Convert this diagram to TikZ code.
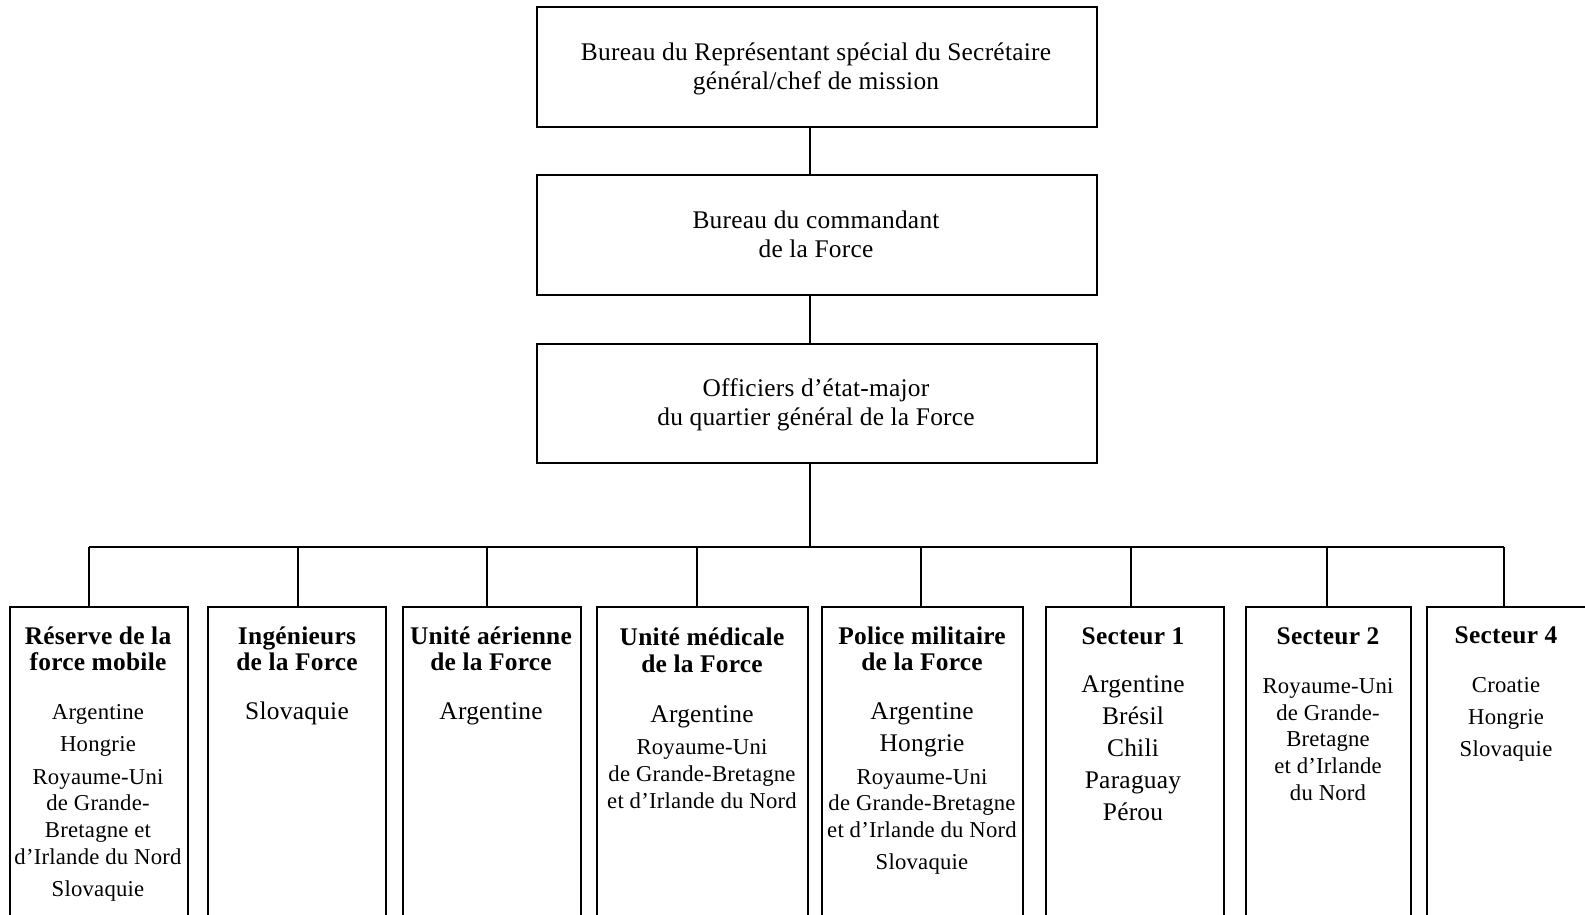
\documentclass[tikz,border=0pt]{standalone}
\usepackage{fontspec}
\setmainfont{Liberation Serif}[LetterSpace=1.0]
\begin{document}
\begin{tikzpicture}[x=1pt,y=-1pt,
  line width=1.7pt,
  boxa/.style={draw, rectangle, inner sep=0, minimum width=560pt, minimum height=120pt, anchor=north},
  boxb/.style={draw, rectangle, inner sep=0, minimum height=340pt, anchor=north},
  lg/.style={font=\fontsize{25.4}{29}\selectfont, anchor=base, inner sep=0},
  sm/.style={font=\fontsize{22.7}{26}\selectfont, anchor=base, inner sep=0},
  hd/.style={font=\fontsize{25.4}{26}\selectfont\bfseries, anchor=base, inner sep=0}]
\useasboundingbox (0,0) rectangle (1585,915);
\clip (0,0) rectangle (1585,915);
% top boxes
\node[boxa] (n1) at (817,6) {};
\node[boxa] (n2) at (817,174) {};
\node[boxa, minimum height=119pt] (n3) at (817,343) {};
\node[lg] (t1a) at (816,61) {Bureau du Représentant spécial du Secrétaire};
\node[lg] (t1b) at (816,90) {général/chef de mission};
\node[lg] (t2a) at (816,228.5) {Bureau du commandant};
\node[lg] (t2b) at (816,257.5) {de la Force};
\node[lg] (t3a) at (816,396) {Officiers d’état-major};
\node[lg] (t3b) at (816,425.5) {du quartier général de la Force};
% bottom boxes
\node[boxb, minimum width=178pt] (c1) at (99,606) {};
\node[boxb, minimum width=178pt] (c2) at (297,606) {};
\node[boxb, minimum width=178pt] (c3) at (492,606) {};
\node[boxb, minimum width=211pt] (c4) at (702.5,606) {};
\node[boxb, minimum width=201pt] (c5) at (922.5,606) {};
\node[boxb, minimum width=178pt] (c6) at (1135,606) {};
\node[boxb, minimum width=165pt] (c7) at (1328.5,606) {};
\node[boxb, minimum width=178pt] (c8) at (1516,606) {};
% connectors
\coordinate (spine) at (810,547);
\coordinate (s1) at (89,547);
\coordinate (s2) at (298,547);
\coordinate (s3) at (487,547);
\coordinate (s4) at (697,547);
\coordinate (s5) at (921,547);
\coordinate (s6) at (1131,547);
\coordinate (s7) at (1327,547);
\coordinate (s8) at (1504,547);
\draw (n1.south -| spine) -- (n2.north -| spine);
\draw (n2.south -| spine) -- (n3.north -| spine);
\draw (n3.south -| spine) -- (spine);
\draw (s1) -- (s8);
\draw (s1) -- (s1 |- c1.north);
\draw (s2) -- (s2 |- c2.north);
\draw (s3) -- (s3 |- c3.north);
\draw (s4) -- (s4 |- c4.north);
\draw (s5) -- (s5 |- c5.north);
\draw (s6) -- (s6 |- c6.north);
\draw (s7) -- (s7 |- c7.north);
\draw (s8) -- (s8 |- c8.north);
% box 1
\node[hd] (h1a) at (98,644.5) {Réserve de la};
\node[hd] (h1b) at (98,670.5) {force mobile};
\node[sm] (b1a) at (98,719) {Argentine};
\node[sm] (b1b) at (98,751.5) {Hongrie};
\node[sm] (b1c) at (98,784) {Royaume-Uni};
\node[sm] (b1d) at (98,810) {de Grande-};
\node[sm] (b1e) at (98,837.5) {Bretagne et};
\node[sm] (b1f) at (98,864) {d’Irlande du Nord};
\node[sm] (b1g) at (98,896) {Slovaquie};
% box 2
\node[hd] (h2a) at (297,644.5) {Ingénieurs};
\node[hd] (h2b) at (297,670.5) {de la Force};
\node[lg] (b2a) at (297,719) {Slovaquie};
% box 3
\node[hd] (h3a) at (491,644.5) {Unité aérienne};
\node[hd] (h3b) at (491,670.5) {de la Force};
\node[lg] (b3a) at (491,719) {Argentine};
% box 4
\node[hd] (h4a) at (702,645.3) {Unité médicale};
\node[hd] (h4b) at (702,672.6) {de la Force};
\node[lg] (b4a) at (702,722) {Argentine};
\node[sm] (b4b) at (702,754.5) {Royaume-Uni};
\node[sm] (b4c) at (702,781.8) {de Grande-Bretagne};
\node[sm] (b4d) at (702,808) {et d’Irlande du Nord};
% box 5
\node[hd] (h5a) at (922,644.5) {Police militaire};
\node[hd] (h5b) at (922,670.5) {de la Force};
\node[lg] (b5a) at (922,719) {Argentine};
\node[lg] (b5b) at (922,751.5) {Hongrie};
\node[sm] (b5c) at (922,784) {Royaume-Uni};
\node[sm] (b5d) at (922,810) {de Grande-Bretagne};
\node[sm] (b5e) at (922,837.5) {et d’Irlande du Nord};
\node[sm] (b5f) at (922,869.7) {Slovaquie};
% box 6
\node[hd] (h6a) at (1133,644.5) {Secteur 1};
\node[lg] (b6a) at (1133,692.8) {Argentine};
\node[lg] (b6b) at (1133,724.2) {Brésil};
\node[lg] (b6c) at (1133,756.5) {Chili};
\node[lg] (b6d) at (1133,788.9) {Paraguay};
\node[lg] (b6e) at (1133,820.2) {Pérou};
% box 7
\node[hd] (h7a) at (1328,644.5) {Secteur 2};
\node[sm] (b7a) at (1328,693.8) {Royaume-Uni};
\node[sm] (b7b) at (1328,720) {de Grande-};
\node[sm] (b7c) at (1328,746.4) {Bretagne};
\node[sm] (b7d) at (1328,773.7) {et d’Irlande};
\node[sm] (b7e) at (1328,800) {du Nord};
% box 8
\node[hd] (h8a) at (1506,643.3) {Secteur 4};
\node[sm] (b8a) at (1506,692.8) {Croatie};
\node[sm] (b8b) at (1506,724.2) {Hongrie};
\node[sm] (b8c) at (1506,756.5) {Slovaquie};
\end{tikzpicture}
\end{document}
